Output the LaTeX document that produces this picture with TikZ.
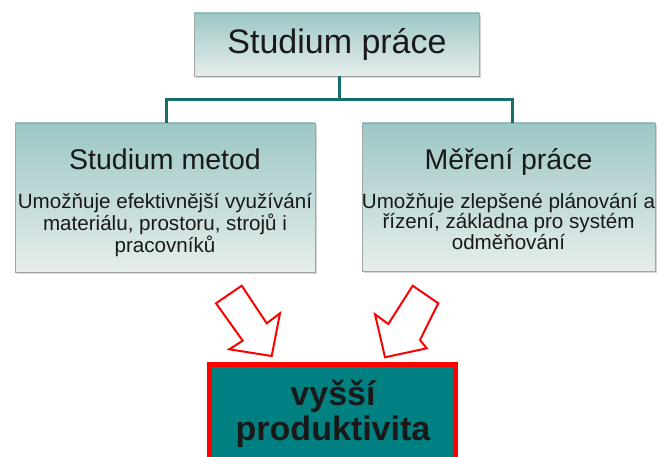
\documentclass[tikz,border=0pt]{standalone}
\usepackage{fontspec}
\setmainfont{Liberation Sans}
\definecolor{boxtop}{RGB}{156,199,197}
\definecolor{boxbot}{RGB}{230,238,236}
\definecolor{boxedge}{RGB}{160,165,165}
\definecolor{linkteal}{RGB}{20,110,108}
\definecolor{goalteal}{RGB}{0,128,128}
\definecolor{txt}{RGB}{25,25,25}
\tikzset{
  x=1pt, y=-1pt,
  panel/.style={draw=boxedge, line width=0.8pt, top color=boxtop, bottom color=boxbot},
  shade/.style={fill=black!35, opacity=0.45},
  conn/.style={draw=linkteal, line width=3pt},
  blockarrow/.style={draw=red, fill=white, line width=2pt, line join=miter},
  title/.style={inner sep=0pt, text=txt},
  body/.style={inner sep=0pt, text=txt, align=center, font=\fontsize{20.6}{20.6}\selectfont},
}
\begin{document}
\begin{tikzpicture}
\useasboundingbox (0,0) rectangle (659,457);
\clip (0,0) rectangle (659,457);
\fill[white] (0,0) rectangle (659,457);

% top box
\fill[shade] (196,15) rectangle (481,78);
\path[panel] (194,13) rectangle (479,76);
\node[title, font=\fontsize{34}{40}\selectfont] (top) at (337,44.5) {Studium práce};
\coordinate (topS) at (339,76);

% left box
\fill[shade] (17,125) rectangle (317,274);
\path[panel] (15,123) rectangle (315,272);
\coordinate (leftN) at (166,123);
\node[title, font=\fontsize{28.5}{34}\selectfont, anchor=base] (lt) at (165,170) {Studium metod};
\node[body, anchor=north] (lb) at (165,193) {Umožňuje efektivnější využívání\\materiálu, prostoru, strojů i\\pracovníků};

% right box
\fill[shade] (364,125) rectangle (657,273);
\path[panel] (362,123) rectangle (655,271);
\coordinate (rightN) at (512,123);
\node[title, font=\fontsize{28.5}{34}\selectfont, anchor=base] (rt) at (508.5,170) {Měření práce};
\node[body, anchor=north] (rb) at (508.5,193) {Umožňuje zlepšené plánování a\\řízení, základna pro systém\\odměňování};

% connectors
\coordinate (mid) at (339,100);
\draw[conn] (topS) -- (mid);
\draw[conn] (leftN) |- (mid) -| (rightN);

% bottom goal box
\path[draw=red, fill=goalteal, line width=5pt] (209.5,364.5) rectangle (455.5,480);
\node[inner sep=0pt, align=center, text=black!90, font=\bfseries\fontsize{34}{35}\selectfont, anchor=base] (goal) at (333,440) {vyšší\\produktivita};

% block arrows
\path[blockarrow] (216,303.3) -- (241.7,285.7) -- (266.7,323.3) -- (280,313.3) -- (271.7,356) -- (229.3,349.3) -- (242.7,340.7) -- cycle;
\path[blockarrow] (438.3,303.3) -- (412.7,285.7) -- (388.3,324) -- (375,314.3) -- (385,357.3) -- (426.7,348.3) -- (420,340) -- cycle;
\end{tikzpicture}
\end{document}
